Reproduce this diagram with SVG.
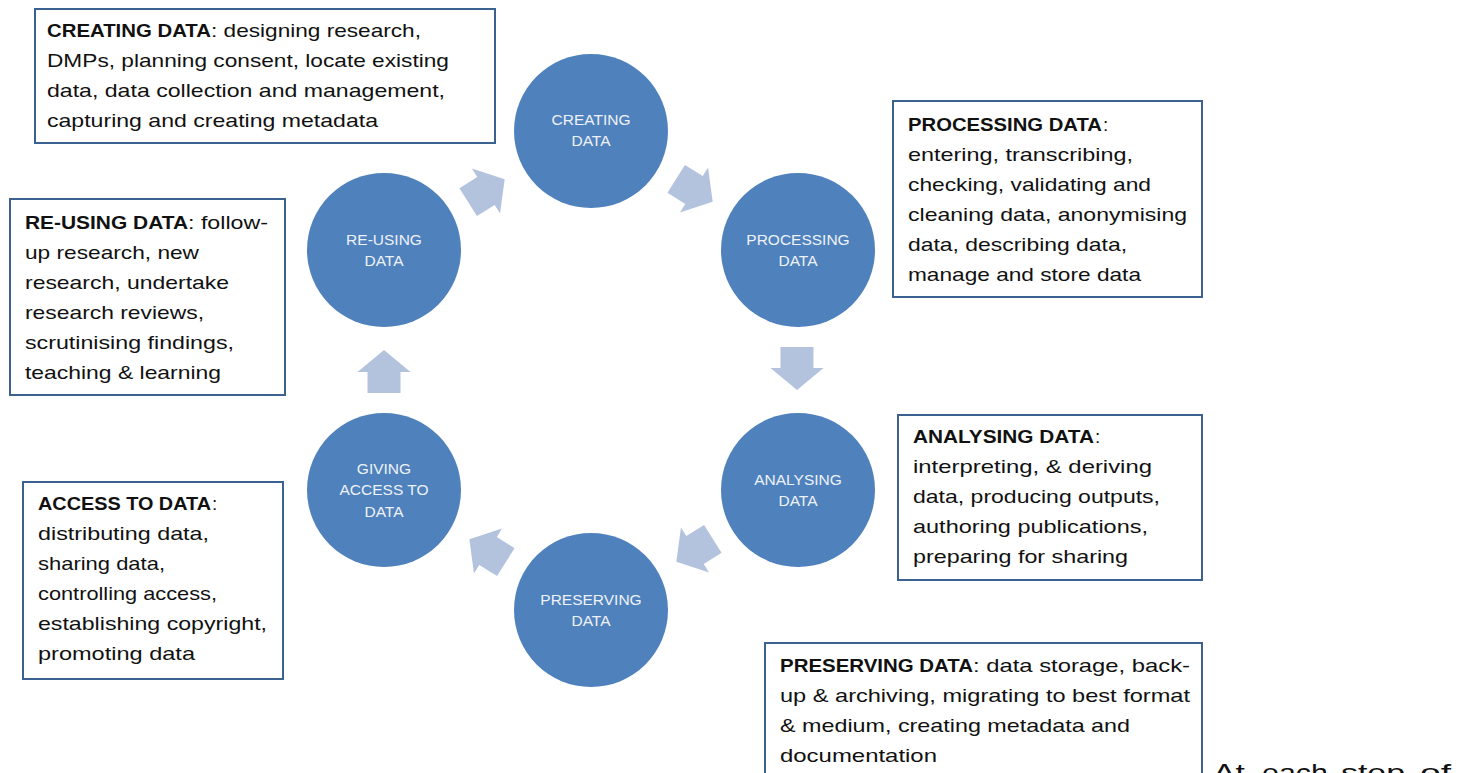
<svg xmlns="http://www.w3.org/2000/svg" width="1471" height="773" viewBox="0 0 1471 773">
  <style>
    .stage { fill: #4F81BD; }
    .stage-label { font-family: "Liberation Sans", Arial, sans-serif; font-size: 15.5px; fill: #EEF2F8; text-anchor: middle; }
    .flow { fill: #B3C3DE; }
    .box { fill: #FFFFFF; stroke: #3B6191; stroke-width: 2; }
    .t { font-family: "Liberation Sans", Arial, sans-serif; font-size: 19px; fill: #111111; }
    .b { font-weight: bold; }
  </style>
  <defs>
    <!-- block arrow pointing along +x; origin sits at the base of the head -->
    <polygon id="block-arrow" points="-21,-16.5 0,-16.5 0,-26.5 22,0 0,26.5 0,16.5 -21,16.5"/>
  </defs>

  <rect width="1471" height="773" fill="#FFFFFF"/>

  <!-- cycle arrows between stages -->
  <g id="connectors" class="flow">
    <use href="#block-arrow" transform="translate(486,191) rotate(-32)"/>
    <use href="#block-arrow" transform="translate(694,190) rotate(32)"/>
    <use href="#block-arrow" transform="translate(797,368) rotate(90)"/>
    <use href="#block-arrow" transform="translate(695,550) rotate(148)"/>
    <use href="#block-arrow" transform="translate(488,551) rotate(212)"/>
    <use href="#block-arrow" transform="translate(384,372) rotate(-90)"/>
  </g>

  <!-- stage circles -->
  <g id="stage-creating">
    <circle class="stage" cx="591" cy="131" r="77"/>
    <text class="stage-label" x="591" y="125">CREATING</text>
    <text class="stage-label" x="591" y="146">DATA</text>
  </g>
  <g id="stage-processing">
    <circle class="stage" cx="798" cy="250" r="77"/>
    <text class="stage-label" x="798" y="245">PROCESSING</text>
    <text class="stage-label" x="798" y="266">DATA</text>
  </g>
  <g id="stage-analysing">
    <circle class="stage" cx="798" cy="490" r="77"/>
    <text class="stage-label" x="798" y="485">ANALYSING</text>
    <text class="stage-label" x="798" y="506">DATA</text>
  </g>
  <g id="stage-preserving">
    <circle class="stage" cx="591" cy="610" r="77"/>
    <text class="stage-label" x="591" y="605">PRESERVING</text>
    <text class="stage-label" x="591" y="626">DATA</text>
  </g>
  <g id="stage-access">
    <circle class="stage" cx="384" cy="490" r="77"/>
    <text class="stage-label" x="384" y="474">GIVING</text>
    <text class="stage-label" x="384" y="495">ACCESS TO</text>
    <text class="stage-label" x="384" y="517">DATA</text>
  </g>
  <g id="stage-reusing">
    <circle class="stage" cx="384" cy="250" r="77"/>
    <text class="stage-label" x="384" y="245">RE-USING</text>
    <text class="stage-label" x="384" y="266">DATA</text>
  </g>

  <!-- description boxes -->
  <g id="note-creating">
    <rect class="box" x="35" y="9" width="460" height="134"/>
    <text class="t b" x="47" y="37" textLength="164" lengthAdjust="spacingAndGlyphs">CREATING DATA</text>
    <text class="t" x="211" y="37" textLength="210" lengthAdjust="spacingAndGlyphs">: designing research,</text>
    <text class="t" x="47" y="67" textLength="402" lengthAdjust="spacingAndGlyphs">DMPs, planning consent, locate existing</text>
    <text class="t" x="47" y="97" textLength="398" lengthAdjust="spacingAndGlyphs">data, data collection and management,</text>
    <text class="t" x="47" y="127" textLength="331" lengthAdjust="spacingAndGlyphs">capturing and creating metadata</text>
  </g>

  <g id="note-processing">
    <rect class="box" x="893" y="101" width="309" height="196"/>
    <text class="t b" x="908" y="131" textLength="194" lengthAdjust="spacingAndGlyphs">PROCESSING DATA</text>
    <text class="t" x="1103" y="131">:</text>
    <text class="t" x="908" y="161" textLength="225" lengthAdjust="spacingAndGlyphs">entering, transcribing,</text>
    <text class="t" x="908" y="191" textLength="243" lengthAdjust="spacingAndGlyphs">checking, validating and</text>
    <text class="t" x="908" y="221" textLength="279" lengthAdjust="spacingAndGlyphs">cleaning data, anonymising</text>
    <text class="t" x="908" y="251" textLength="219" lengthAdjust="spacingAndGlyphs">data, describing data,</text>
    <text class="t" x="908" y="281" textLength="233" lengthAdjust="spacingAndGlyphs">manage and store data</text>
  </g>

  <g id="note-reusing">
    <rect class="box" x="10" y="199" width="275" height="196"/>
    <text class="t b" x="25" y="229" textLength="163" lengthAdjust="spacingAndGlyphs">RE-USING DATA</text>
    <text class="t" x="188" y="229" textLength="80" lengthAdjust="spacingAndGlyphs">: follow-</text>
    <text class="t" x="25" y="259" textLength="174" lengthAdjust="spacingAndGlyphs">up research, new</text>
    <text class="t" x="25" y="289" textLength="204" lengthAdjust="spacingAndGlyphs">research, undertake</text>
    <text class="t" x="25" y="319" textLength="179" lengthAdjust="spacingAndGlyphs">research reviews,</text>
    <text class="t" x="25" y="349" textLength="209" lengthAdjust="spacingAndGlyphs">scrutinising findings,</text>
    <text class="t" x="25" y="379" textLength="196" lengthAdjust="spacingAndGlyphs">teaching &amp; learning</text>
  </g>

  <g id="note-analysing">
    <rect class="box" x="898" y="415" width="304" height="165"/>
    <text class="t b" x="913" y="443" textLength="181" lengthAdjust="spacingAndGlyphs">ANALYSING DATA</text>
    <text class="t" x="1095" y="443">:</text>
    <text class="t" x="913" y="473" textLength="239" lengthAdjust="spacingAndGlyphs">interpreting, &amp; deriving</text>
    <text class="t" x="913" y="503" textLength="247" lengthAdjust="spacingAndGlyphs">data, producing outputs,</text>
    <text class="t" x="913" y="533" textLength="235" lengthAdjust="spacingAndGlyphs">authoring publications,</text>
    <text class="t" x="913" y="563" textLength="215" lengthAdjust="spacingAndGlyphs">preparing for sharing</text>
  </g>

  <g id="note-access">
    <rect class="box" x="23" y="482" width="260" height="197"/>
    <text class="t b" x="38" y="510" textLength="173" lengthAdjust="spacingAndGlyphs">ACCESS TO DATA</text>
    <text class="t" x="212" y="510">:</text>
    <text class="t" x="38" y="540" textLength="171" lengthAdjust="spacingAndGlyphs">distributing data,</text>
    <text class="t" x="38" y="570" textLength="127" lengthAdjust="spacingAndGlyphs">sharing data,</text>
    <text class="t" x="38" y="600" textLength="179" lengthAdjust="spacingAndGlyphs">controlling access,</text>
    <text class="t" x="38" y="630" textLength="229" lengthAdjust="spacingAndGlyphs">establishing copyright,</text>
    <text class="t" x="38" y="660" textLength="157" lengthAdjust="spacingAndGlyphs">promoting data</text>
  </g>

  <g id="note-preserving">
    <rect class="box" x="765" y="643" width="437" height="170"/>
    <text class="t b" x="780" y="672" textLength="193" lengthAdjust="spacingAndGlyphs">PRESERVING DATA</text>
    <text class="t" x="973" y="672" textLength="217" lengthAdjust="spacingAndGlyphs">: data storage, back-</text>
    <text class="t" x="780" y="702" textLength="410" lengthAdjust="spacingAndGlyphs">up &amp; archiving, migrating to best format</text>
    <text class="t" x="780" y="732" textLength="350" lengthAdjust="spacingAndGlyphs">&amp; medium, creating metadata and</text>
    <text class="t" x="780" y="762" textLength="157" lengthAdjust="spacingAndGlyphs">documentation</text>
  </g>

  <!-- start of the following paragraph, justified -->
  <g id="trailing-text" class="t" style="font-size:24px">
    <text x="1213" y="781" textLength="32" lengthAdjust="spacingAndGlyphs">At</text>
    <text x="1262" y="781" textLength="66" lengthAdjust="spacingAndGlyphs">each</text>
    <text x="1341" y="781" textLength="64" lengthAdjust="spacingAndGlyphs">step</text>
    <text x="1420" y="781" textLength="31" lengthAdjust="spacingAndGlyphs">of</text>
  </g>
</svg>
